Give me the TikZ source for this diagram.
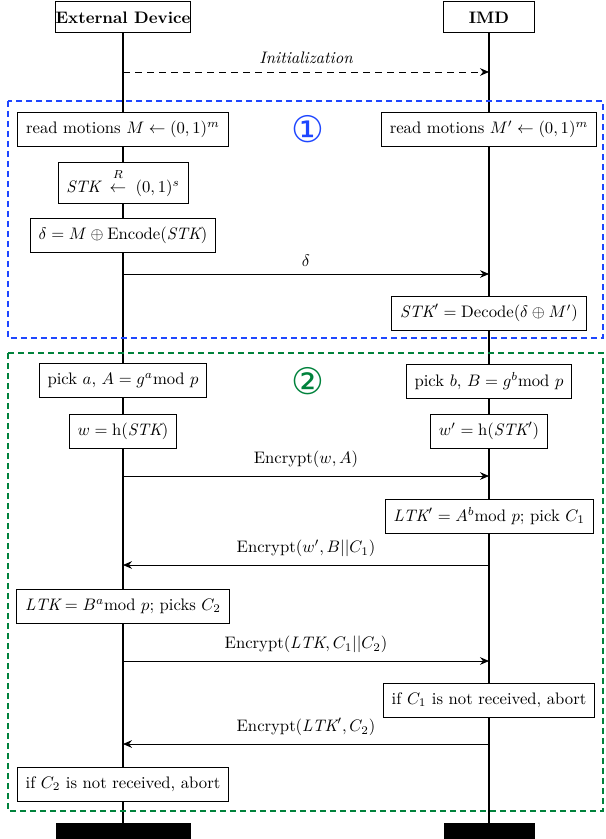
\documentclass[tikz,border=0pt]{standalone}
\usepackage{amsmath}
\usepackage{fontspec}
\newfontfamily\circfont{DejaVu Sans}
\usetikzlibrary{arrows.meta}
\definecolor{phaseblue}{RGB}{30,70,255}
\definecolor{phasegreen}{RGB}{0,130,60}
\newcommand{\STK}{\mathit{STK}}
\newcommand{\LTK}{\mathit{LTK}}
\begin{document}
\begin{tikzpicture}[x=0.6pt,y=-0.6pt,
  hdr/.style={draw, line width=0.6pt, font=\bfseries, inner sep=0pt, minimum height=18.6pt},
  act/.style={draw, fill=white, line width=0.5pt, inner xsep=5pt, inner ysep=2pt, minimum height=20.4pt},
  life/.style={line width=0.9pt},
  barbox/.style={fill=black, inner sep=0pt, minimum height=9.6pt},
  msg/.style={line width=0.5pt, -{Stealth[length=5.4pt,width=4.6pt,inset=1.8pt]}},
  lbl/.style={midway, above, inner sep=4.5pt},
  phase/.style={line width=0.9pt, dash pattern=on 3.6pt off 2.4pt},
  num/.style={font=\circfont\fontsize{22}{22}\selectfont}
]
\useasboundingbox (0,0) rectangle (605,839);

% participants
\node[hdr, minimum width=81pt] (ext) at (123,17.5) {External Device};
\node[hdr, minimum width=54.6pt] (imd) at (489,17.5) {IMD};
\node[barbox, minimum width=81pt] (extbar) at (123,831) {};
\node[barbox, minimum width=54.6pt] (imdbar) at (489,831) {};
\draw[life] (ext.south) -- (extbar.north);
\draw[life] (imd.south) -- (imdbar.north);

% initialization
\coordinate (i1) at (123,72);
\coordinate (i2) at (489,72);
\draw[msg, dashed, dash pattern=on 4.2pt off 3pt] (i1) -- node[lbl]{\itshape Initialization} (i2);

% phase 1
\draw[phase, draw=phaseblue] (8,101) rectangle (603,338);
\node[num, text=phaseblue] (n1) at (308,129) {①};
\node[act] (rm1) at (123,129) {read motions $M \leftarrow (0,1)^m$};
\node[act] (rm2) at (489,129) {read motions $M' \leftarrow (0,1)^m$};
\node[act, minimum height=24.6pt] (stk) at (123,183) {$\STK\;\overset{\raisebox{2.5pt}{$\scriptstyle R$}}{\leftarrow}\;(0,1)^s$};
\node[act] (dl) at (123,235) {$\delta = M \oplus \mathrm{Encode}(\STK)$};
\coordinate (d1) at (123,274);
\coordinate (d2) at (489,274);
\draw[msg] (d1) -- node[lbl]{$\delta$} (d2);
\node[act] (dec) at (489,313) {$\STK' = \mathrm{Decode}(\delta \oplus M')$};

% phase 2
\draw[phase, draw=phasegreen] (8,353) rectangle (603,811);
\node[num, text=phasegreen] (n2) at (308,381) {②};
\node[act] (pa) at (123,380) {pick $a$, $A = g^a\mathrm{mod}\ p$};
\node[act] (pb) at (489,381) {pick $b$, $B = g^b\mathrm{mod}\ p$};
\node[act] (w1) at (123,431) {$w = \mathrm{h}(\STK)$};
\node[act] (w2) at (489,431) {$w' = \mathrm{h}(\STK')$};
\coordinate (e1a) at (123,476);
\coordinate (e1b) at (489,476);
\draw[msg] (e1a) -- node[lbl]{Encrypt$(w, A)$} (e1b);
\node[act] (ltkp) at (489,516) {$\LTK' = A^b\mathrm{mod}\ p$; pick $C_1$};
\coordinate (e2a) at (489,565);
\coordinate (e2b) at (123,565);
\draw[msg] (e2a) -- node[lbl]{Encrypt$(w', B||C_1)$} (e2b);
\node[act] (ltk) at (123,606) {$\LTK = B^a\mathrm{mod}\ p$; picks $C_2$};
\coordinate (e3a) at (123,661);
\coordinate (e3b) at (489,661);
\draw[msg] (e3a) -- node[lbl]{Encrypt$(\LTK, C_1||C_2)$} (e3b);
\node[act] (ab1) at (489,700) {if $C_1$ is not received, abort};
\coordinate (e4a) at (489,744);
\coordinate (e4b) at (123,744);
\draw[msg] (e4a) -- node[lbl]{Encrypt$(\LTK', C_2)$} (e4b);
\node[act] (ab2) at (123,784) {if $C_2$ is not received, abort};
\end{tikzpicture}
\end{document}
